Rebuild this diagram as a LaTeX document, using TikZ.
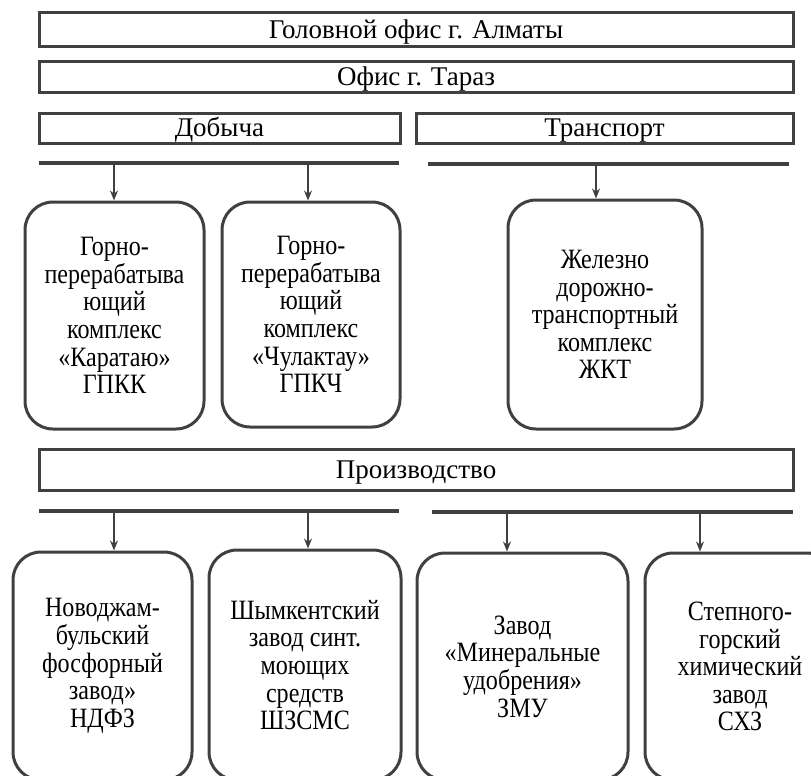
\documentclass[tikz,border=0pt]{standalone}
\usepackage{fontspec}
\setmainfont[FakeStretch=0.86]{Liberation Serif}
\newfontfamily\officefont{Liberation Serif}
\usetikzlibrary{arrows.meta}
\begin{document}
\begin{tikzpicture}[x=1pt,y=-1pt,line width=3pt,
		font=\fontsize{28}{27.6}\selectfont,
		office/.style={draw=black!75,inner sep=0pt,font=\officefont\fontsize{27}{30}\selectfont,
			text height=17.8pt,text depth=0pt},
		plant/.style={draw=black!75,rounded corners=28pt,align=center,inner sep=0pt},
		bar/.style={draw=black!75,line width=3.5pt},
		link/.style={draw=black!75,line width=2pt,-{Stealth[length=10pt,width=8pt]}}]
		\useasboundingbox (0,0) rectangle (811,776);
		\clip (0,0) rectangle (811,776);
		% offices
		\node[office,minimum width=754,minimum height=34] (head) at (416,30) {Головной офис г. Алматы};
		\node[office,minimum width=754,minimum height=30] (taraz) at (416,77) {Офис г. Тараз};
		\node[office,minimum width=361,minimum height=30] (mining) at (219.5,128) {Добыча};
		\node[office,minimum width=377,minimum height=30] (transport) at (604.5,128) {Транспорт};
		\node[office,minimum width=754,minimum height=41] (production) at (416,469.5) {Производство};
		% bars
		\coordinate (m1) at (39,163);
		\coordinate (m2) at (399,163);
		\coordinate (t1) at (428,164);
		\coordinate (t2) at (789,164);
		\coordinate (p1) at (39,511);
		\coordinate (p2) at (399,511);
		\coordinate (q1) at (432,512);
		\coordinate (q2) at (793,512);
		\draw[bar] (m1) -- (m2);
		\draw[bar] (t1) -- (t2);
		\draw[bar] (p1) -- (p2);
		\draw[bar] (q1) -- (q2);
		% complexes
		\node[plant,minimum width=179,minimum height=227] (gpkk) at (114.5,315.5)
			{Горно-\\перерабатыва\\ющий\\комплекс\\«Каратаю»\\ГПКК};
		\node[plant,minimum width=178,minimum height=225] (gpkch) at (311,314.5)
			{Горно-\\перерабатыва\\ющий\\комплекс\\«Чулактау»\\ГПКЧ};
		\node[plant,minimum width=194,minimum height=229] (zhkt) at (605,314.5)
			{Железно\\дорожно-\\транспортный\\комплекс\\ЖКТ};
		% plants
		\node[plant,minimum width=179,minimum height=228] (ndfz) at (102.5,666)
			{Новоджам-\\бульский\\фосфорный\\завод»\\НДФЗ};
		\node[plant,minimum width=192,minimum height=230] (shzsms) at (305,665)
			{Шымкентский\\завод синт.\\моющих\\средств\\ШЗСМС};
		\node[plant,minimum width=211,minimum height=227] (zmu) at (522.5,666.5)
			{Завод\\«Минеральные\\удобрения»\\ЗМУ};
		\node[plant,minimum width=190,minimum height=227] (shz) at (740,666.5)
			{Степного-\\горский\\химический\\завод\\СХЗ};
		% arrows
		\coordinate (a1) at (114,163);
		\coordinate (a2) at (308,163);
		\coordinate (a3) at (596,164);
		\coordinate (b1) at (114,511);
		\coordinate (b2) at (308,511);
		\coordinate (b3) at (507,512);
		\coordinate (b4) at (700,512);
		\draw[link] (a1) -- (a1 |- gpkk.north);
		\draw[link] (a2) -- (a2 |- gpkch.north);
		\draw[link] (a3) -- (a3 |- zhkt.north);
		\draw[link] (b1) -- (b1 |- ndfz.north);
		\draw[link] (b2) -- (b2 |- shzsms.north);
		\draw[link] (b3) -- (b3 |- zmu.north);
		\draw[link] (b4) -- (b4 |- shz.north);
	\end{tikzpicture}
\end{document}
